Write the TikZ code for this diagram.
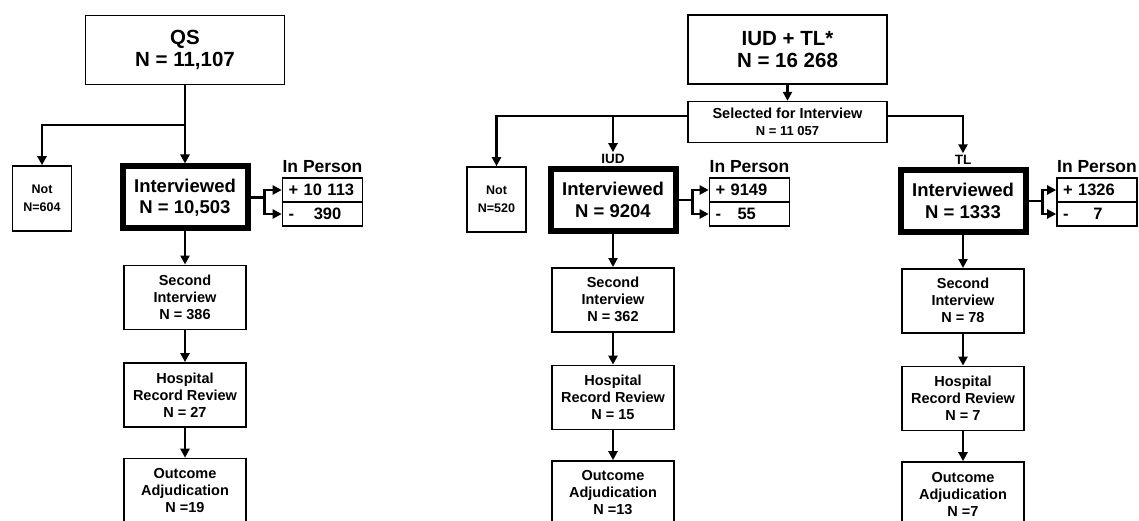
\documentclass[tikz,border=0pt]{standalone}
\usepackage{fontspec}
\setmainfont{Liberation Sans}
\usetikzlibrary{arrows.meta, positioning, calc}

\begin{document}
\begin{tikzpicture}[
    x=1pt, y=-1pt,
    >={Triangle[length=9pt, width=9pt]},
    arr/.style={->, line width=2.8pt},
    box/.style={draw, line width=1.6pt, align=center, inner sep=2pt, font=\bfseries\fontsize{14.5}{17}\selectfont},
    total/.style={box, minimum width=199pt, minimum height=69pt, font=\bfseries\fontsize{20.5}{22.5}\selectfont},
    intv/.style={draw, line width=6pt, align=center, minimum width=125pt, minimum height=62pt, font=\bfseries\fontsize{18.5}{21.5}\selectfont},
    stepbox/.style={box, minimum width=122pt, minimum height=64pt},
    notbox/.style={box, minimum width=59pt, minimum height=65pt, font=\bfseries\fontsize{12.5}{18}\selectfont},
    iprow/.style={draw, line width=1.6pt, minimum width=80pt, minimum height=24pt, inner xsep=6pt, inner ysep=0pt, text width=68pt, align=left, font=\bfseries\fontsize{16.5}{18}\selectfont},
    iplab/.style={font=\bfseries\fontsize{17.5}{19}\selectfont},
    armlab/.style={font=\bfseries\fontsize{13.5}{15}\selectfont, inner sep=2pt},
]
    \useasboundingbox (0,0) rectangle (1139,521);
    \clip (0,0) rectangle (1139,521);

    % QS arm
    \node[total] (qs) at (185,50) {QS\\N = 11,107};
    \node[intv] (intA) at (185,197.5) {Interviewed\\N = 10,503};
    \node[notbox] (notA) at (42,198.5) {Not\\N=604};
    \node[iprow] (ipAp) at (322.5,190) {\mbox{+ 10 113}};
    \node[iprow, below=-1.6pt of ipAp] (ipAm) {\mbox{-\hspace{1.2em}390}};
    \node[iplab, above=1pt of ipAp] (iplabA) {In Person};
    \node[stepbox, below=33pt of intA] (secA) {Second\\Interview\\N = 386};
    \node[stepbox, below=32pt of secA] (hosA) {Hospital\\Record Review\\N = 27};
    \node[stepbox, below=30pt of hosA] (outA) {Outcome\\Adjudication\\N =19};

    \coordinate (jA) at (185,125);
    \draw[arr] (qs) -- (intA);
    \draw[arr] (jA) -| (notA.north);
    \coordinate (brA) at ([xshift=14pt]intA.east);
    \draw[arr] (intA.east) -- (brA) |- (ipAp.west);
    \draw[arr] (brA) |- (ipAm.west);
    \draw[arr] (intA) -- (secA);
    \draw[arr] (secA) -- (hosA);
    \draw[arr] (hosA) -- (outA);

    % IUD + TL arm
    \node[total] (iudtl) at (787.5,49.5) {IUD + TL*\\N = 16 268};
    \node[box, minimum width=199pt, minimum height=41pt, below=16pt of iudtl] (sel) {Selected for Interview\\{\fontsize{13}{14}\selectfont N = 11 057}};
    \node[notbox] (notB) at (496.5,199.5) {Not\\N=520};
    \node[intv] (intB) at (613,200) {Interviewed\\N = 9204};
    \node[armlab, above=0pt of intB] (iudlab) {IUD};
    \node[iprow] (ipBp) at (749.5,190) {\mbox{+ 9149}};
    \node[iprow, below=-1.6pt of ipBp] (ipBm) {\mbox{-\hspace{1em}55}};
    \node[iplab, above=1pt of ipBp] (iplabB) {In Person};
    \node[stepbox, below=33pt of intB] (secB) {Second\\Interview\\N = 362};
    \node[stepbox, below=32pt of secB] (hosB) {Hospital\\Record Review\\N = 15};
    \node[stepbox, below=30pt of hosB] (outB) {Outcome\\Adjudication\\N =13};

    \node[intv] (intC) at (963,201) {Interviewed\\N = 1333};
    \node[armlab, above=0pt of intC] (tllab) {TL};
    \node[iprow] (ipCp) at (1097,190) {\mbox{+ 1326}};
    \node[iprow, below=-1.6pt of ipCp] (ipCm) {\mbox{-\hspace{1.5em}7}};
    \node[iplab, above=1pt of ipCp] (iplabC) {In Person};
    \node[stepbox, below=33pt of intC] (secC) {Second\\Interview\\N = 78};
    \node[stepbox, below=32pt of secC] (hosC) {Hospital\\Record Review\\N = 7};
    \node[stepbox, below=30pt of hosC] (outC) {Outcome\\Adjudication\\N =7};

    \coordinate (selW) at ([yshift=6pt]sel.west);
    \coordinate (selE) at ([yshift=6pt]sel.east);
    \draw[arr] (iudtl) -- (sel);
    \draw[arr] (selW) -| (notB.north);
    \draw[arr] (selW -| iudlab.north) -- (iudlab.north);
    \draw[arr] (selE) -| (tllab.north);

    \coordinate (brB) at ([xshift=14pt]intB.east);
    \draw[arr] (intB.east) -- (brB) |- (ipBp.west);
    \draw[arr] (brB) |- (ipBm.west);
    \coordinate (brC) at ([xshift=14pt]intC.east);
    \draw[arr] (intC.east) -- (brC) |- (ipCp.west);
    \draw[arr] (brC) |- (ipCm.west);

    \draw[arr] (intB) -- (secB);
    \draw[arr] (secB) -- (hosB);
    \draw[arr] (hosB) -- (outB);
    \draw[arr] (intC) -- (secC);
    \draw[arr] (secC) -- (hosC);
    \draw[arr] (hosC) -- (outC);
\end{tikzpicture}
\end{document}
